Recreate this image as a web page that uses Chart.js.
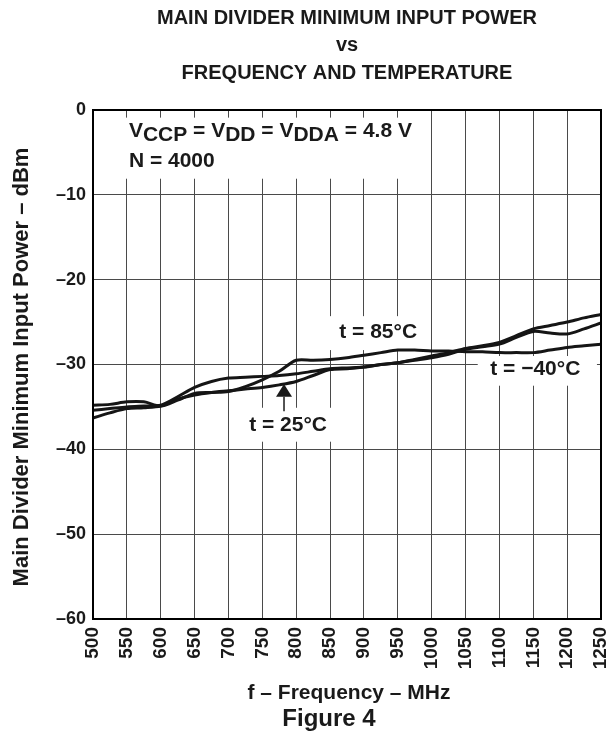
<!DOCTYPE html>
<html>
<head>
<meta charset="utf-8">
<script src="https://cdn.jsdelivr.net/npm/chart.js@4"></script>
<style>
  html, body { margin: 0; padding: 0; background: #fff; }
</style>
</head>
<body>
<canvas id="chart" width="616" height="736"></canvas>
<script>
// frequency points (MHz)
const freqMHz = [500, 525, 550, 575, 600, 625, 650, 675, 700, 725, 750, 775, 800, 825, 850, 875,
                 900, 925, 950, 975, 1000, 1025, 1050, 1075, 1100, 1125, 1150, 1175, 1200, 1225, 1250];

// minimum input power (dBm) per temperature
const power85 = [-34.8, -34.7, -34.4, -34.4, -34.9, -34.2, -33.4, -33.3, -33.2, -32.6, -31.8, -30.8, -29.5, -29.5, -29.4, -29.2,
                 -28.9, -28.6, -28.3, -28.3, -28.4, -28.4, -28.5, -28.5, -28.6, -28.6, -28.6, -28.3, -28.0, -27.8, -27.6];
const powerM40 = [-35.4, -35.2, -35.0, -34.9, -34.8, -33.8, -32.7, -32.0, -31.6, -31.5, -31.4, -31.3, -31.1, -30.8, -30.5, -30.4,
                  -30.3, -30.0, -29.8, -29.4, -29.0, -28.6, -28.1, -27.8, -27.4, -26.6, -25.8, -25.4, -25.0, -24.5, -24.1];
const power25 = [-36.3, -35.7, -35.2, -35.1, -34.9, -34.1, -33.6, -33.3, -33.1, -32.9, -32.7, -32.4, -32.0, -31.3, -30.6, -30.5,
                 -30.3, -30.0, -29.8, -29.5, -29.2, -28.8, -28.2, -27.9, -27.6, -26.8, -26.1, -26.3, -26.4, -25.8, -25.1];

const FONT = '"Liberation Sans", Arial, Helvetica, sans-serif';

// text notes inside the plot, positioned in data units
const notes = [
  { text: 't = 85°C',  x: 921,  y: -26.2, box: [843, 990, -24.3, -28.3] },
  { text: 't = \u221240°C', x: 1153, y: -30.6, box: [1068, 1244, -29.0, -32.5] },
  { text: 't = 25°C',  x: 788,  y: -37.1, box: [717, 857, -35.1, -39.1] }
];

function series(label, values) {
  return {
    label: label,
    data: freqMHz.map((f, i) => ({ x: f, y: values[i] })),
    borderColor: '#151515',
    borderWidth: 3,
    pointRadius: 0,
    tension: 0.3,
    fill: false
  };
}

const decorations = {
  id: 'decorations',
  beforeDatasetsDraw(chart) {
    const ctx = chart.ctx;
    const xs = chart.scales.x, ys = chart.scales.y;
    ctx.save();
    ctx.fillStyle = '#fff';
    // box behind the conditions text
    const bx0 = xs.getPixelForValue(510), bx1 = xs.getPixelForValue(968);
    const by0 = ys.getPixelForValue(-0.9), by1 = ys.getPixelForValue(-8.1);
    ctx.fillRect(bx0, by0, bx1 - bx0, by1 - by0);
    notes.forEach(n => {
      const x0 = xs.getPixelForValue(n.box[0]), x1 = xs.getPixelForValue(n.box[1]);
      const y0 = ys.getPixelForValue(n.box[2]), y1 = ys.getPixelForValue(n.box[3]);
      ctx.fillRect(x0, y0, x1 - x0, y1 - y0);
    });
    ctx.restore();
  },
  afterDatasetsDraw(chart) {
    const ctx = chart.ctx;
    const xs = chart.scales.x, ys = chart.scales.y;
    const a = chart.chartArea;
    ctx.save();
    // frame
    ctx.strokeStyle = '#000';
    ctx.lineWidth = 2;
    ctx.strokeRect(a.left, a.top, a.right - a.left, a.bottom - a.top);

    ctx.fillStyle = '#1a1a1a';
    ctx.textBaseline = 'alphabetic';

    // conditions
    ctx.font = 'bold 21px ' + FONT;
    ctx.textAlign = 'left';
    let x = xs.getPixelForValue(553);
    const base = ys.getPixelForValue(-3.2);
    const parts = [['V', 0], ['CCP', 4], [' = V', 0], ['DD', 4], [' = V', 0], ['DDA', 4], [' = 4.8 V', 0]];
    parts.forEach(p => {
      ctx.fillText(p[0], x, base + p[1]);
      x += ctx.measureText(p[0]).width;
    });
    ctx.fillText('N = 4000', xs.getPixelForValue(553), ys.getPixelForValue(-6.7));

    // curve labels
    ctx.textAlign = 'center';
    ctx.textBaseline = 'middle';
    ctx.font = 'bold 21px ' + FONT;
    notes.forEach(n => ctx.fillText(n.text, xs.getPixelForValue(n.x), ys.getPixelForValue(n.y)));

    // arrow to the 25 C curve
    const ax = xs.getPixelForValue(782);
    const tip = ys.getPixelForValue(-32.3), head = ys.getPixelForValue(-33.8), tail = ys.getPixelForValue(-35.5);
    ctx.beginPath();
    ctx.moveTo(ax, tip);
    ctx.lineTo(ax - 8, head);
    ctx.lineTo(ax + 8, head);
    ctx.closePath();
    ctx.fill();
    ctx.strokeStyle = '#1a1a1a';
    ctx.lineWidth = 1.5;
    ctx.beginPath();
    ctx.moveTo(ax, head);
    ctx.lineTo(ax, tail);
    ctx.stroke();
    ctx.restore();
  },
  afterDraw(chart) {
    const ctx = chart.ctx;
    ctx.save();
    ctx.fillStyle = '#1a1a1a';
    ctx.textAlign = 'center';
    ctx.textBaseline = 'middle';
    ctx.font = 'bold 20px ' + FONT;
    ctx.fillText('MAIN DIVIDER MINIMUM INPUT POWER', 347, 18);
    ctx.fillText('vs', 347, 45);
    ctx.fillText('FREQUENCY AND TEMPERATURE', 347, 73);

    ctx.font = 'bold 21px ' + FONT;
    ctx.fillText('f \u2013 Frequency \u2013 MHz', 349, 693);
    ctx.font = 'bold 24px ' + FONT;
    ctx.fillText('Figure 4', 329, 719);

    ctx.translate(22, 367);
    ctx.rotate(-Math.PI / 2);
    ctx.font = 'bold 22px ' + FONT;
    ctx.fillText('Main Divider Minimum Input Power \u2013 dBm', 0, 0);
    ctx.restore();
  }
};

new Chart(document.getElementById('chart'), {
  type: 'line',
  data: {
    datasets: [
      series('t = 85°C', power85),
      series('t = \u221240°C', powerM40),
      series('t = 25°C', power25)
    ]
  },
  options: {
    responsive: false,
    animation: false,
    layout: { padding: { top: 110, right: 15, left: 0, bottom: 0 } },
    plugins: {
      legend: { display: false },
      tooltip: { enabled: false }
    },
    scales: {
      x: {
        type: 'linear',
        min: 500,
        max: 1250,
        afterFit: function(scale) {
          scale.height = 117;
          scale.paddingLeft = 0;
          scale.paddingRight = 0;
        },
        ticks: {
          stepSize: 50,
          autoSkip: false,
          minRotation: 90,
          maxRotation: 90,
          padding: 8,
          color: '#1a1a1a',
          font: { family: FONT, size: 19, weight: 'bold' },
          callback: v => String(v)
        },
        grid: { color: '#4a4a4a', lineWidth: 1, drawTicks: false },
        border: { color: '#000', width: 2 }
      },
      y: {
        min: -60,
        max: 0,
        afterFit: function(scale) { scale.width = 93; },
        ticks: {
          stepSize: 10,
          padding: 7,
          color: '#1a1a1a',
          font: { family: FONT, size: 18, weight: 'bold' },
          callback: v => v < 0 ? '\u2013' + Math.abs(v) : String(v)
        },
        grid: { color: '#4a4a4a', lineWidth: 1, drawTicks: false },
        border: { color: '#000', width: 2 }
      }
    }
  },
  plugins: [decorations]
});
</script>
</body>
</html>
